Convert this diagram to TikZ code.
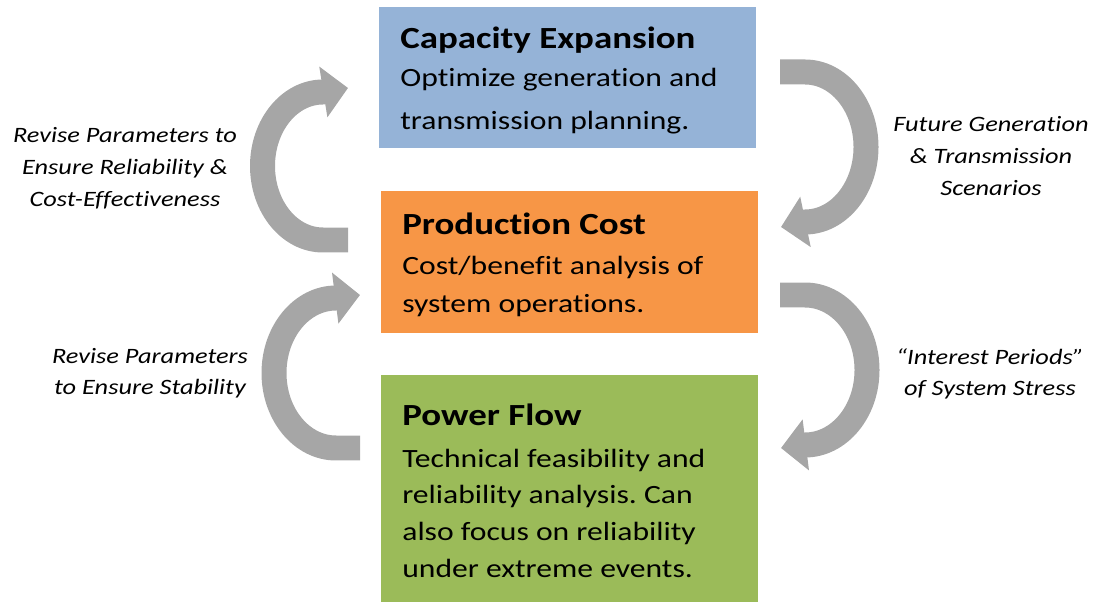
\documentclass[tikz,border=0pt]{standalone}
\usepackage{fontspec}
\setmainfont{Carlito}[FakeStretch=1.2,Ligatures={NoCommon}]
\usetikzlibrary{arrows.meta,fit}
\definecolor{ceblue}{HTML}{95B3D7}
\definecolor{pcorange}{HTML}{F79646}
\definecolor{pfgreen}{HTML}{9BBB59}
\definecolor{arrowgray}{HTML}{A6A6A6}
\newcommand{\titlefont}{\fontsize{17.5pt}{21pt}\selectfont\bfseries}
\frenchspacing
\begin{document}
\begin{tikzpicture}[x=0.02cm,y=0.02cm,
  boxfill/.style={inner sep=0pt, draw=none},
  boxtitle/.style={anchor=base west, inner sep=0pt, font=\titlefont},
  boxbody/.style={anchor=base west, inner sep=0pt},
  lbl/.style={anchor=base, inner sep=0pt},
  cyc/.style={draw=arrowgray, line width=0.5cm, line cap=butt,
    -{Triangle[length=0.5cm,width=1cm]}}]
\useasboundingbox (0,0) rectangle (1094,602);
% boxes
\node[boxfill, fill=ceblue, fit={(379,454) (756,595)}] (ce) {};
\node[boxfill, fill=pcorange, fit={(381,269) (758,411)}] (pc) {};
\node[boxfill, fill=pfgreen, fit={(381,0) (758,227)}] (pf) {};
% box texts
\node[boxtitle] (cet) at (400,553) {Capacity Expansion};
\node[boxbody] (ceb) at (400,515) {\parbox[t]{9cm}{\raggedright\fontsize{15pt}{24.4pt}\selectfont Optimize generation and\\transmission planning.}};
\node[boxtitle] (pct) at (402,367) {Production Cost};
\node[boxbody] (pcb) at (402,327) {\parbox[t]{9cm}{\raggedright\fontsize{15pt}{21.3pt}\selectfont Cost/benefit analysis of\\system operations.}};
\node[boxtitle] (pft) at (402,177) {Power Flow};
\node[boxbody] (pfb) at (402,135) {\parbox[t]{9cm}{\raggedright\fontsize{15pt}{21pt}\selectfont Technical feasibility and\\reliability analysis. Can\\also focus on reliability\\under extreme events.}};
% labels
\node[lbl] (l1) at (125,459) {\parbox[t]{6cm}{\centering\fontsize{12.5pt}{18.1pt}\selectfont\itshape Revise Parameters to\\Ensure Reliability \&\\Cost-Effectiveness}};
\node[lbl] (r1) at (991,470) {\parbox[t]{6cm}{\centering\fontsize{12.5pt}{18.1pt}\selectfont\itshape Future Generation\\\& Transmission\\Scenarios}};
\node[lbl] (l2) at (150,239) {\parbox[t]{6cm}{\centering\fontsize{12.5pt}{18.1pt}\selectfont\itshape Revise Parameters\\to Ensure Stability}};
\node[lbl] (r2) at (990,238) {\parbox[t]{6cm}{\centering\fontsize{12.5pt}{18.1pt}\selectfont\itshape “Interest Periods”\\of System Stress}};
% cycle arrows
\coordinate (a1s) at (348,362); \coordinate (a1e) at (348,514);
\coordinate (a2s) at (360,154); \coordinate (a2e) at (360,307);
\coordinate (a3s) at (780,530); \coordinate (a3e) at (781,375);
\coordinate (a4s) at (780,307); \coordinate (a4e) at (781,154);
\draw[cyc] (a1s) -- (323,362) arc[start angle=270,end angle=90,x radius=60.5,y radius=74] -- (a1e);
\draw[cyc] (a2s) -- (336,154) arc[start angle=270,end angle=90,x radius=62,y radius=75] -- (a2e);
\draw[cyc] (a3s) -- (805,530) arc[start angle=90,end angle=-90,x radius=61,y radius=75] -- (a3e);
\draw[cyc] (a4s) -- (805,307) arc[start angle=90,end angle=-90,x radius=62,y radius=75] -- (a4e);
\end{tikzpicture}
\end{document}
